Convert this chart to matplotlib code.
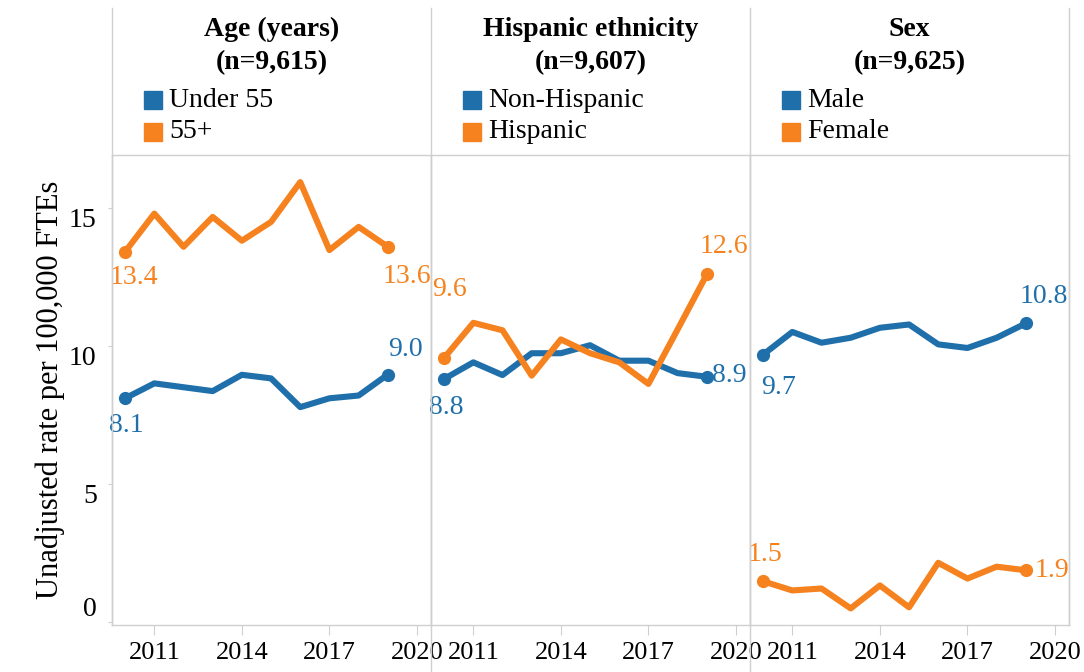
import matplotlib.pyplot as plt
from matplotlib.lines import Line2D

plt.rcParams['font.family'] = ['Liberation Serif', 'DejaVu Serif']

# data
years = list(range(2010, 2020))

age_under55 = [8.10, 8.64, 8.50, 8.36, 8.95, 8.82, 7.78, 8.10, 8.20, 8.96]
age_55plus = [13.40, 14.78, 13.58, 14.66, 13.80, 14.48, 15.92, 13.46, 14.30, 13.58]

eth_nonhisp = [8.80, 9.40, 8.94, 9.73, 9.73, 10.02, 9.46, 9.46, 9.01, 8.88]
eth_hisp = [9.56, 10.83, 10.56, 8.92, 10.23, 9.73, 9.40, 8.62, 10.59, 12.58]

sex_male = [9.68, 10.50, 10.11, 10.29, 10.65, 10.77, 10.05, 9.92, 10.29, 10.81]
sex_female = [1.48, 1.15, 1.22, 0.50, 1.33, 0.54, 2.15, 1.58, 2.01, 1.88]

panel_titles = ["Age (years)", "Hispanic ethnicity", "Sex"]
panel_n = ["(n=9,615)", "(n=9,607)", "(n=9,625)"]
legend_labels = [["Under 55", "55+"], ["Non-Hispanic", "Hispanic"], ["Male", "Female"]]
panel_series = [[age_under55, age_55plus], [eth_nonhisp, eth_hisp], [sex_male, sex_female]]

# end-label offsets in pixels (first point, last point) per series
label_offsets = [
    [[(1, -27), (18, 25)], [(9, -26), (19, -30)]],
    [[(2, -29), (23, 1)], [(5, 68), (17, 28)]],
    [[(15, -33), (18, 27)], [(2, 27), (26, 0)]],
]

blue = "#1f6fab"
orange = "#f5821f"
colors = [blue, orange]
grid_c = "#cfcfcf"
fs = 20

W, H = 1084, 672
fig = plt.figure(figsize=(W / 100, H / 100), dpi=100)

left, right = 112 / W, 1069 / W
bottom, top = 1 - 625 / H, 1 - 155 / H
pw = (right - left) / 3

for i in range(3):
    ax = fig.add_axes([left + i * pw, bottom, pw, top - bottom])
    for j, vals in enumerate(panel_series[i]):
        c = colors[j]
        ax.plot(years, vals, color=c, lw=4.4, zorder=3)
        ax.plot([years[0], years[-1]], [vals[0], vals[-1]], 'o', color=c, ms=8.5, zorder=4)
        for k, idx in enumerate([0, -1]):
            v = vals[idx]
            ax.annotate(f"{v:.1f}", (years[idx], v), xytext=label_offsets[i][j][k],
                        textcoords='offset pixels', ha='center', va='center',
                        color=c, fontsize=fs, annotation_clip=False, zorder=5)

    ax.set_xlim(2009.55, 2020.48)
    ax.set_ylim(-0.1, 16.9)
    ax.set_xticks([2011, 2014, 2017, 2020])
    ax.set_xticklabels(["2011", "2014", "2017", "2020"], fontsize=19)
    ax.tick_params(axis='x', length=7, color=grid_c, pad=5)
    for s in ax.spines.values():
        s.set_color(grid_c)
        s.set_linewidth(1)
    if i == 0:
        ax.set_yticks([0, 5, 10, 15])
        ax.set_yticklabels(["0", "5", "10", "15"], fontsize=fs)
        ax.tick_params(axis='y', length=3, color=grid_c, pad=8)
        for t in ax.get_yticklabels():
            t.set_va('top')
        ax.get_yticklabels()[0].set_va('bottom')
        ax.set_ylabel("Unadjusted rate per 100,000 FTEs", fontsize=22, labelpad=3)
    else:
        ax.set_yticks([])

    # header: title, n, and legend
    ax.text(0.5, 1.268, panel_titles[i], transform=ax.transAxes, ha='center', va='center',
            fontsize=fs, fontweight='bold')
    ax.text(0.5, 1.196, panel_n[i], transform=ax.transAxes, ha='center', va='center',
            fontsize=fs, fontweight='bold')
    for j, lab in enumerate(legend_labels[i]):
        yy = 1.117 - j * 0.068
        ax.plot([0.13], [yy], 's', color=colors[j], ms=13, transform=ax.transAxes, clip_on=False)
        ax.text(0.18, yy, lab, transform=ax.transAxes, ha='left', va='center', fontsize=fs)

# panel borders extending into the header and below the axis
for xp, y0, y1 in [(112, 8, 625), (431, 8, 672), (750, 8, 672), (1069, 8, 625)]:
    fig.add_artist(Line2D([xp / W, xp / W], [1 - y1 / H, 1 - y0 / H], color=grid_c, lw=1))

fig.savefig("out.png", dpi=100)
